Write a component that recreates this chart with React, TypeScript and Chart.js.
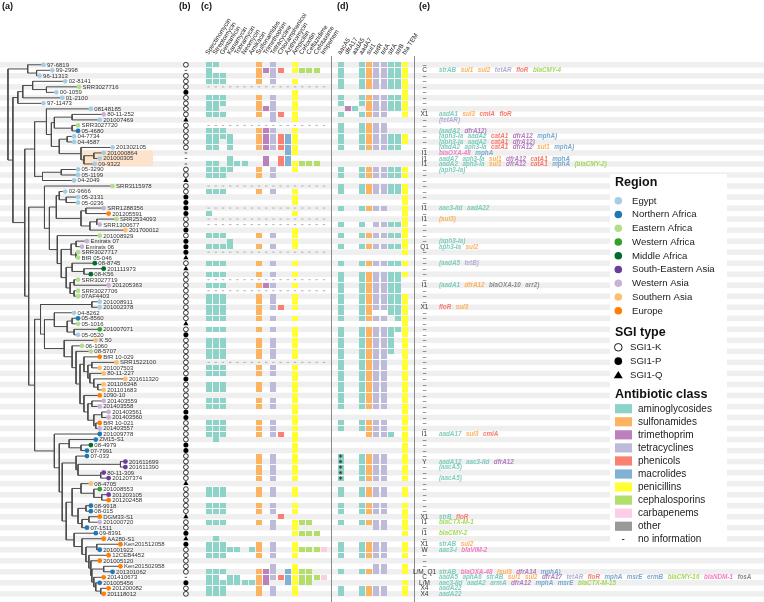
import React, { useEffect, useRef } from 'react';
import { Chart, registerables } from 'chart.js';
Chart.register(...registerables);

const FONT = '"Liberation Sans", Arial, Helvetica, sans-serif';

// ---------- DATA ----------
const leafNames = ['97-6819','99-2998','96-11313','02-8141','SRR3027716','00-1059','01-2100','97-11473','08148185','80-11-252',
'201007469','SRR3027720','05-4680','04-7734','04-4587','201302105','201000864','201000305','09-9322','05-3290',
'05-1199','04-2049','SRR3115978','02-9666','05-2131','05-0236','SRR1288356','201205591','SRR2534093','SRR1300677',
'201700012','201008929','Emirats 07','Emirats 06','SRR3027717','BfR 05-046','08-8745','201111973','08-K56','SRR3027719',
'201205363','SRR3027706','07AF4403','201008911','201002378','04-8262','05-8560','05-1016','201007071','05-0520',
'K 50','06-1060','08-5707','BfR 10-029','SRR1522100','201007503','80-11-227','201611320','201106348','201101683',
'1090-10','201403559','201403558','201403561','201403560','BfR 10-021','201403557','201009778','ZM15-S1','08-4979',
'07-7991','07-033','201611699','201611390','80-11-309','201207374','08-4705','201008553','201203105','201202458',
'08-9918','08-015','DGM33-S1','201000720','07-1511','09-8391','AA280-S1','Ken201512058','201001922','12CEB4452',
'201005120','Ken201502958','201301062','201410673','201005456','201200082','201118012'];

// cumulative divergence of each tip (tree units)
const leafDepth = [39,48,35,61,75,52,58,39,87,100,
96,74,74,70,70,109,100,96,91,74,
74,70,109,61,74,74,100,105,113,96,
122,96,83,78,74,74,91,100,87,74,
105,74,74,96,96,70,74,74,96,74,
92,78,87,96,113,96,100,122,100,100,
96,100,96,105,105,96,96,96,92,87,
83,83,122,122,100,105,87,96,105,105,
87,87,96,96,83,92,100,117,96,105,
96,117,109,100,96,105,100];

// region code per tip
const leafRegion = ('EEEEAEEEEV' + 'EANEEEEEEE' + 'EEAEEEVUAV' + 'HAVVAAMMMA' + 'VAAEEENAWE' +
  'HAAUHHHHHH' + 'UVVVVUVNNM' + 'NNSSSSHWSU' + 'NNUVNNUUNU' + 'UUNUNUU').split('');

// SGI type per tip: K, P, Q or - (no information)
const sgiTypes = ('K-KKKPKKKK' + 'QKKKKK---K' + 'KQKKPPPPKK' + 'PKPPPQKQKK' + 'KKKKKKKQKP' +
  'KKKKKKKPKK' + 'KKKPPKKKKP' + 'PKKKKKQKKK' + 'KKQKKPQPKK' + 'KKK-PKK').split('');

// tree topology: [nodeDepth, ...children]; numbers are tip indices
const cladeTop = [23, 0, [32, 1, 2]];
const cladeA = [13, [18, [28, 3, [42, 4, 5]], 6], 7];
const cladeB1 = [42, 8, [47, [50, [68, 9, 10], [68, 11, 12]], [55, [63, 13, 14], [77, 15, [80, [90, 16, 17], 18]]]]];
const cladeB2 = [38, [57, 19, 20], 21];
const cladeC1 = [52, [55, 23, [62, 24, 25]], [77, [82, 26, 27], [86, [93, 28, 29], 30]]];
const cladeC2 = [53, 31, [57, [67, [72, 32, 33], [72, 34, 35]], [62, [68, 36, [80, 37, 38]], [66, [70, 39, 40], [70, 41, 42]]]]];
const cladeC = [40, 22, [45, cladeC1, cladeC2]];
const cladeD1 = [50, 45, [63, [68, 46, 47], [70, 48, 49]]];
const cladeD2a = [80, 53, [84, [88, 54, 55], [86, 56, [90, 57, [94, 58, 59]]]]];
const cladeD2b = [80, 60, [84, [88, 61, 62], [90, [98, 63, 64], [92, 65, 66]]]];
const cladeD2 = [60, 50, [68, 51, [72, 52, [76, cladeD2a, cladeD2b]]]];
const cladeD = [36, [88, 43, 44], [40, cladeD1, cladeD2]];
const cladeE1 = [68, [77, 76, [90, 77, [98, 78, 79]]], [74, [82, 80, 81], [78, [85, 82, 83], 84]]];
const cladeE2 = [70, 85, [78, 86, [82, [93, 87, 88], [85, 89, [87, 90, [88, [100, 91, 92], [90, 93, [92, 94, [97, 95, 96]]]]]]]]];
const cladeE = [50, 67, [55, [65, 68, [77, 69, 70]], [58, [72, 71, [74, [117, 72, 73], [97, 74, 75]]], [62, cladeE1, cladeE2]]]];
const treeTopology: any = [3, cladeTop, [8, cladeA, [20, [30, cladeB1, cladeB2], [24, cladeC, [30, cladeD, cladeE]]]]];

const highlightRows = [16, 18];
const highlightDepth = [78, 150];

// (c) phenotype columns
const phenoLabels = ['Spectinomycin','Streptomycin','Gentamicin','Kanamycin','Tobramycin','Neomycin','Amikacin',
  'Sulfonamides','Trimethoprim','Tetracycline','Chloramphenicol','Azithromycin','Ampicillin','Cefoxitin',
  'Ceftazidime','Cefotaxime','Imipenem'];
const phenoClass = ['a','a','a','a','a','a','a','s','t','c','p','m','y','g','g','g','k'];
const phenoRows = [
'11000001010010000','10000001111011110','11100001010000000','11100001010010000','-',
'00000000000010000','11100001010010000','11100001010010000','11000001110010000','11100001011010000',
'00000000010010000','-','11100001110010000','11110001111110000','11010001111110000',
'11010001111110000','00000000000110000','00010000101100000','11011100101111110','11110001010010000',
'11100001010000000','00000000000000000','-','11100001010010000','00000000000010000',
'00000000000010000','-','10000000000010000','-','-',
'00000000000010000','11100001010010000','00010000000010000','11110001010010000','-',
'00000000000000000','11100001010010000','00000000000000000','11100001010010000','-',
'11100001110010000','-','11100001010010000','11100001010010000','11100001011010000',
'11100001000000000','11100001010010000','00000000000000000','11100001010010000','00000000000010000',
'11100001010010000','11100001010010000','11100001010010000','11100001010010000','-',
'11100001010010000','11100001010010000','00000000000010000','11100001010010000','11100001010010000',
'00000000000010000','11100001010010000','11100001010010000','00000000000010000','00000000000010000',
'11100001010010000','11100001010010000','11100001011010000','01000000000010000','00000000000010000',
'00000000000010000','00000001010010000','00000001010010000','00000001010010000','00000001010010000',
'00000001010010000','00000000000000000','11100001010010000','11100001010010000','00000000000000000',
'11100001010010000','11100001010010000','00000000001000000','11100001010011100','00000000010010000',
'00000000000011110','01000000000000000','11100001010010000','11111011010011111','11100001010010000',
'00000000000000000','00000000010010000','11100001110111100','11011001111111111','11111111100111100',
'11100001010010000','11100001010010000'];

// (d) gene columns
const geneLabels = ['aacA5','dfrA17','aadA5','aadA7','sul1','tetR','tetA','strA','strB','bla TEM'];
const geneClass = ['a','t','a','a','s','c','c','a','a','y'];
const geneRows = [
'1001111111','1001111111','1001111111','1001111111','1001111111',
'0000000001','1001111111','1001111111','0110111111','1001111001',
'0000000000','1001111000','1001111000','1001111111','1001111111',
'1001111110','0000000000','0000000000','0000000000','1001111111',
'1001111111','0000000000','1001111111','1001111111','0000000001',
'0000000001','1001111001','0000000001','0000000001','1001011111',
'0000000001','1001111111','0000000001','1001111111','0000000001',
'0000000000','1001111111','0000000000','1001111111','1001111110',
'1001111110','1001111110','1001111111','1001111111','1001111111',
'1001100111','1001111011','0000000001','1001111111','1001111101',
'1001111101','1001111101','1001111101','1001111001','1001111001',
'1001111001','1001111001','1001111001','1001111001','1001111001',
'1001111001','1001111001','1001111001','0000000001','0000000001',
'1001111001','1001111001','0000111101','0000000001','0000000001',
'0000000001','1001111001','1001111001','1001111001','1001111001',
'1001111001','0000000000','1001111001','1001111001','0000000000',
'1001111001','1001111001','0000000001','1001111001','0000011001',
'0000000001','0000000000','1001111001','1001111001','1001111001',
'0000000000','0000011001','1001111001','0000000000','0000000001',
'1001111001','1001111001'];
const starredRows = [71, 72, 73, 74, 75];

// (e) integron / resistance region codes and extra genes
const integronCodes: [number, string][] = [[1,'C'],[9,'X1'],[16,'I1'],[17,'I1'],[18,'I1'],[26,'I1'],[28,'I1'],
  [33,'Q1'],[40,'I1'],[44,'X1'],[67,'I1'],[72,'Y'],[82,'X1'],[83,'I1'],[85,'I1'],[87,'X1'],[88,'W'],
  [92,'L/M, Q1'],[93,'C'],[94,'L/M'],[95,'X4'],[96,'X4']];
const geneNotes: [number, string][] = [
 [1, 'a:strAB s:sul1 s:sul2 c:tetAR p:floR g:blaCMY-4'],
 [9, 'a:aadA1 s:sul3 p:cmlA p:floR'],
 [10, 'c:(tetAR)'],
 [12, 'a:(aadA2 t:dfrA12)'],
 [13, 'a:(aph3-Ia a:aadA2 p:catA1 t:dfrA12 m:mphA)'],
 [14, 'a:(aph3-Ia a:aadA2 p:catA1 t:dfrA12)'],
 [15, 'a:(aadA2 a:aph3-Ia p:catA1 t:dfrA12 s:sul1 m:mphA)'],
 [16, 'k:blaOXA-48 m:mphA'],
 [17, 'a:aadA7 a:aph3-Ia s:sul1 t:dfrA12 p:catA1 m:mphA'],
 [18, 'a:aadA2 a:aph3-Ia s:sul1 t:dfrA12 p:catA1 m:mphA g:(blaCMY-2)'],
 [19, 'a:(aph3-Ia)'],
 [26, 'a:aac3-IId a:aadA22'],
 [28, 's:(sul3)'],
 [32, 'a:(aph3-Ia)'],
 [33, 'a:aph3-Ia s:sul2'],
 [36, 'a:(aadA5 c:tetB)'],
 [40, 'a:(aadA1 s:dfrA12 o:blaOXA-10 o:arr2)'],
 [44, 'p:floR s:sul3'],
 [67, 'a:aadA17 s:sul3 p:cmlA'],
 [72, 'a:aadA12 a:aac3-IId t:dfrA12'],
 [73, 'a:(aacA5)'],
 [75, 'a:(aacA5)'],
 [82, 'a:strB p:floR'],
 [83, 'g:blaCTX-M-1'],
 [85, 'g:blaCMY-2'],
 [87, 'a:strAB s:sul2'],
 [88, 'a:aac3-I k:blaVIM-2'],
 [92, 'a:strAB k:blaOXA-48 s:(sul3 t:dfrA14 m:mphA)'],
 [93, 'a:aadA5 a:aphA6 a:strAB s:sul1 s:sul2 t:dfrA17 c:tetAR p:floR m:mphA m:msrE m:ermB g:blaCMY-16 k:blaNDM-1 o:fosA'],
 [94, 'a:aac3-IId a:aadA2 a:armA t:dfrA12 m:mphA m:msrE g:blaCTX-M-15'],
 [95, 'a:aadA22'],
 [96, 'a:aadA22'],
];

// legend content
const regionCodes = ['E','N','A','W','M','S','V','H','U'];
const regionLabels = ['Egypt','Northern Africa','Eastern Africa','Western Africa','Middle Africa',
  'South-Eastern Asia','Western Asia','Southern Asia','Europe'];
const regionColors = ['#a6cee3','#1f78b4','#b2df8a','#33a02c','#006d2c','#6a3d9a','#cab2d6','#fdbf6f','#ff7f00'];
const sgiLabels = ['SGI1-K','SGI1-P','SGI1-Q'];
const classCodes = ['a','s','t','c','p','m','y','g','k','o'];
const classLabels = ['aminoglycosides','sulfonamides','trimethoprim','tetracyclines','phenicols','macrolides',
  'penicillins','cephalosporins','carbapenems','other'];
const classColors = ['#8dd3c7','#fdb462','#bc80bd','#bebada','#fb8072','#80b1d3','#ffff33','#b3de69','#fccde5','#999999'];
const classTextColors: Record<string, string> = { a: '#7fcdbd', s: '#fdb15a', t: '#b57cbf', c: '#b3aed6',
  p: '#f8786a', m: '#78a9d0', y: '#e0e020', g: '#a6d85a', k: '#f47cc4', o: '#8c8c8c' };

// ---------- helpers ----------
function buildTree(node: any, parentX: number | null, segs: any[]): number {
  if (typeof node === 'number') {
    if (parentX !== null) segs.push({ x: parentX, y: node }, { x: leafDepth[node], y: node }, { x: null, y: null });
    return node;
  }
  const x = node[0];
  const ys = node.slice(1).map((k: any) => buildTree(k, x, segs));
  const y = (ys[0] + ys[ys.length - 1]) / 2;
  segs.push({ x, y: ys[0] }, { x, y: ys[ys.length - 1] }, { x: null, y: null });
  if (parentX !== null) segs.push({ x: parentX, y }, { x, y }, { x: null, y: null });
  return y;
}

function makeCell(color: string) {
  const c = document.createElement('canvas');
  c.width = 6; c.height = 5;
  const g = c.getContext('2d')!;
  g.fillStyle = color; g.fillRect(0, 0, 6, 5);
  return c;
}

export default function App() {
  const ref = useRef<HTMLCanvasElement>(null);
  useEffect(() => {
    const cellImg: Record<string, HTMLCanvasElement> = {};
    classCodes.forEach((k, i) => { cellImg[k] = makeCell(classColors[i]); });

    const treeSegs: any[] = [];
    buildTree(treeTopology, null, treeSegs);

    const tips = leafNames.map((_, i) => ({ x: leafDepth[i], y: i }));
    const tipColors = leafRegion.map(r => regionColors[regionCodes.indexOf(r)]);

    const sgi = (t: string) => sgiTypes.map((s, i) => (s === t ? { x: 0, y: i } : null)).filter(Boolean);

    const phenoCells: any[] = [];
    const phenoDash: any[] = [];
    phenoRows.forEach((row, i) => {
      if (row === '-') { phenoLabels.forEach((_, j) => phenoDash.push({ x: j, y: i })); return; }
      row.split('').forEach((v, j) => { if (v === '1') phenoCells.push({ x: j, y: i, k: phenoClass[j] }); });
    });
    const geneCells: any[] = [];
    geneRows.forEach((row, i) => {
      row.split('').forEach((v, j) => { if (v === '1') geneCells.push({ x: j, y: i, k: geneClass[j] }); });
    });
    const stars = starredRows.map(r => ({ x: 0, y: r }));

    const cellStyle = (c: any) => (c.raw && cellImg[c.raw.k]) || 'rect';

    const bgPlugin = {
      id: 'bg',
      beforeDatasetsDraw(chart: any) {
        const ctx = chart.ctx; const y = chart.scales.y; const xT = chart.scales.xT;
        const pitch = Math.abs(y.getPixelForValue(1) - y.getPixelForValue(0));
        ctx.imageSmoothingEnabled = false;
        ctx.save();
        ctx.fillStyle = '#efefef';
        for (let i = 0; i < leafNames.length; i += 2) {
          const py = y.getPixelForValue(i);
          ctx.fillRect(0, py - pitch / 2, chart.width, pitch);
        }
        ctx.fillStyle = '#ffffff';
        ctx.fillRect(610, 174, 117, 372);
        ctx.fillStyle = '#fde3cc';
        const hy0 = y.getPixelForValue(highlightRows[0] - 0.45), hy1 = y.getPixelForValue(highlightRows[1] + 0.4);
        const hx0 = xT.getPixelForValue(highlightDepth[0]), hx1 = xT.getPixelForValue(highlightDepth[1]);
        ctx.fillRect(hx0, hy0, hx1 - hx0, hy1 - hy0);
        ctx.strokeStyle = '#8a8a8a'; ctx.lineWidth = 1;
        ctx.beginPath();
        ctx.moveTo(331.5, 56); ctx.lineTo(331.5, 602);
        ctx.moveTo(414.5, 56); ctx.lineTo(414.5, 602);
        ctx.stroke();
        ctx.restore();
      },
      afterDatasetsDraw(chart: any) {
        const ctx = chart.ctx; const y = chart.scales.y; const xT = chart.scales.xT;
        const xC = chart.scales.xC; const xD = chart.scales.xD;
        ctx.save();
        ctx.fillStyle = '#111'; ctx.font = `bold 9px ${FONT}`; ctx.textBaseline = 'alphabetic'; ctx.textAlign = 'left';
        ctx.fillText('(a)', 2, 9); ctx.fillText('(b)', 179, 9); ctx.fillText('(c)', 201, 9);
        ctx.fillText('(d)', 337, 9); ctx.fillText('(e)', 419, 9);
        ctx.font = `6px ${FONT}`; ctx.fillStyle = '#333'; ctx.textBaseline = 'middle';
        leafNames.forEach((n, i) => ctx.fillText(n, xT.getPixelForValue(leafDepth[i]) + 3.5, y.getPixelForValue(i) + 0.3));
        ctx.font = `6.4px ${FONT}`; ctx.fillStyle = '#222';
        const rot = -57 * Math.PI / 180;
        phenoLabels.forEach((l, j) => {
          ctx.save(); ctx.translate(xC.getPixelForValue(j) - 1.5, 54); ctx.rotate(rot); ctx.fillText(l, 0, 0); ctx.restore();
        });
        geneLabels.forEach((l, j) => {
          ctx.save(); ctx.translate(xD.getPixelForValue(j) - 1.5, 54); ctx.rotate(rot); ctx.fillText(l, 0, 0); ctx.restore();
        });
        ctx.font = `6.5px ${FONT}`; ctx.fillStyle = '#333'; ctx.textAlign = 'center';
        const codeMap: Record<number, string> = {};
        integronCodes.forEach(([r, c]) => { codeMap[r] = c; });
        leafNames.forEach((_, i) => ctx.fillText(codeMap[i] || '–', 424.5, y.getPixelForValue(i) + 0.3));
        ctx.textAlign = 'left'; ctx.font = `italic bold 6.3px ${FONT}`;
        geneNotes.forEach(([r, s]) => {
          let x = 439;
          const py = y.getPixelForValue(r) + 0.3;
          s.split(' ').forEach(tok => {
            const idx = tok.indexOf(':');
            const k = tok.slice(0, idx); const txt = tok.slice(idx + 1);
            ctx.fillStyle = classTextColors[k];
            ctx.fillText(txt, x, py);
            x += ctx.measureText(txt).width + 4.5;
          });
        });
        ctx.fillStyle = '#111'; ctx.font = `bold 12.5px ${FONT}`; ctx.textBaseline = 'middle';
        ctx.fillText('Region', 615, 183);
        ctx.fillText('SGI type', 615, 332.5);
        ctx.fillText('Antibiotic class', 615, 394.5);
        ctx.font = `9.6px ${FONT}`;
        regionLabels.forEach((l, k) => {
          const py = 200.7 + 13.75 * k;
          ctx.fillStyle = regionColors[k];
          ctx.beginPath(); ctx.arc(618.3, py, 3.8, 0, Math.PI * 2); ctx.fill();
          ctx.fillStyle = '#222'; ctx.fillText(l, 632, py + 0.3);
        });
        sgiLabels.forEach((l, k) => {
          const py = 347.3 + 13.85 * k;
          ctx.beginPath();
          if (k === 2) { ctx.moveTo(618.3, py - 4); ctx.lineTo(622.8, py + 3.2); ctx.lineTo(613.8, py + 3.2); ctx.closePath(); }
          else ctx.arc(618.3, py, 3.8, 0, Math.PI * 2);
          ctx.fillStyle = k === 0 ? '#fff' : '#000'; ctx.fill();
          if (k === 0) { ctx.strokeStyle = '#000'; ctx.lineWidth = 0.9; ctx.stroke(); }
          ctx.fillStyle = '#222'; ctx.fillText(l, 630, py + 0.3);
        });
        ctx.font = `10px ${FONT}`;
        classLabels.forEach((l, k) => {
          const py = 408.7 + 13.06 * k;
          ctx.fillStyle = classColors[k]; ctx.fillRect(615, py - 4.6, 17, 9.2);
          ctx.fillStyle = '#222'; ctx.fillText(l, 638, py + 0.3);
        });
        const pn = 408.7 + 13.06 * 10;
        ctx.fillText('-', 621.5, pn); ctx.fillText('no information', 638, pn + 0.3);
        ctx.restore();
      },
    };

    const chart = new Chart(ref.current!, {
      type: 'scatter',
      data: {
        datasets: [
          { data: stars, xAxisID: 'xD', yAxisID: 'y', pointStyle: 'star', pointRadius: 1.7, pointBorderColor: '#333', pointBorderWidth: 0.7, pointBackgroundColor: '#333' } as any,
          { data: tips, xAxisID: 'xT', yAxisID: 'y', pointRadius: 2.4, pointBorderWidth: 0, pointBackgroundColor: tipColors },
          { data: treeSegs, xAxisID: 'xT', yAxisID: 'y', showLine: true, spanGaps: false, pointRadius: 0, borderColor: '#4a4a4a', borderWidth: 1 },
          { data: sgi('K'), xAxisID: 'xB', yAxisID: 'y', pointStyle: 'circle', pointRadius: 2.4, pointBackgroundColor: '#fff', pointBorderColor: '#000', pointBorderWidth: 0.8 },
          { data: sgi('P'), xAxisID: 'xB', yAxisID: 'y', pointStyle: 'circle', pointRadius: 2.5, pointBackgroundColor: '#000', pointBorderWidth: 0 },
          { data: sgi('Q'), xAxisID: 'xB', yAxisID: 'y', pointStyle: 'triangle', pointRadius: 3, pointBackgroundColor: '#000', pointBorderWidth: 0 },
          { data: sgi('-'), xAxisID: 'xB', yAxisID: 'y', pointStyle: 'line', pointRadius: 1.3, pointBorderColor: '#333', pointBorderWidth: 0.8 },
          { data: phenoCells, xAxisID: 'xC', yAxisID: 'y', pointStyle: cellStyle, pointRadius: 3 } as any,
          { data: phenoDash, xAxisID: 'xC', yAxisID: 'y', pointStyle: 'line', pointRadius: 1.2, pointBorderColor: '#a8a8a8', pointBorderWidth: 0.9 },
          { data: geneCells, xAxisID: 'xD', yAxisID: 'y', pointStyle: cellStyle, pointRadius: 3 } as any,
        ],
      },
      options: {
        animation: false,
        responsive: false,
        maintainAspectRatio: false,
        events: [],
        layout: { padding: 0 },
        plugins: { legend: { display: false }, tooltip: { enabled: false } },
        scales: {
          xT: { type: 'linear', axis: 'x', display: false, min: 0, max: 764 },
          xB: { type: 'linear', axis: 'x', display: false, min: -183.3, max: 764 - 183.3 },
          xC: { type: 'linear', axis: 'x', display: false, min: -206.3 / 7.3, max: (764 - 206.3) / 7.3 },
          xD: { type: 'linear', axis: 'x', display: false, min: -340 / 7.28, max: (764 - 340) / 7.28 },
          y: { type: 'linear', display: false, reverse: true, min: -60.8 / 5.604, max: (602 - 60.8) / 5.604 },
        } as any,
      },
      plugins: [bgPlugin],
    } as any);
    return () => chart.destroy();
  }, []);
  return (
    <div style={{ position: 'fixed', left: 0, top: 0, width: 764, height: 602, background: '#fff' }}>
      <canvas ref={ref} width={764} height={602} style={{ display: 'block', width: 764, height: 602 }} />
    </div>
  );
}
